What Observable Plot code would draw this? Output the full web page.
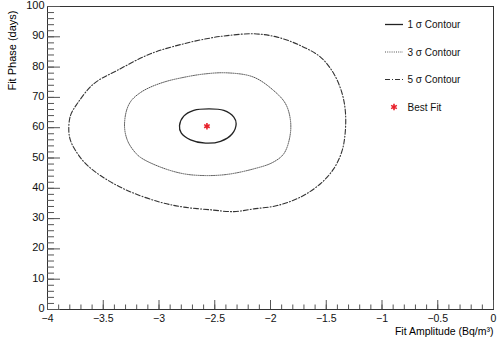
<!DOCTYPE html>
<html>
<head>
<meta charset="utf-8">
<script src="https://cdn.jsdelivr.net/npm/d3@7"></script>
<script src="https://cdn.jsdelivr.net/npm/@observablehq/plot@0.6"></script>
<style>
  html, body { margin: 0; padding: 0; background: #fff; }
  #wrap { position: relative; width: 498px; height: 340px; font-family: "Liberation Sans", Arial, sans-serif; }
  #legend { position: absolute; left: 0; top: 0; pointer-events: none; }
</style>
</head>
<body>
<div id="wrap"></div>
<script>
// ---- data (amplitude in Bq/m^3, phase in days) ----
const contour1Amp = [-2.816, -2.778, -2.688, -2.553, -2.419, -2.329, -2.308, -2.343, -2.448, -2.583, -2.717, -2.801];
const contour1Phase = [60.7, 63.8, 65.7, 66.2, 65.7, 63.5, 61.3, 58.0, 55.5, 54.9, 56.0, 58.3];

const contour3Amp = [-3.309, -3.291, -3.247, -3.166, -3.076, -2.942, -2.807, -2.601, -2.386, -2.152, -1.973, -1.865, -1.821, -1.827, -1.881, -1.982, -2.152, -2.386, -2.583, -2.780, -2.987, -3.166, -3.229, -3.283];
const contour3Phase = [60.2, 65.7, 69.0, 71.6, 73.4, 75.2, 76.4, 77.7, 78.1, 76.7, 72.3, 67.9, 62.4, 56.9, 51.4, 48.5, 46.4, 44.6, 44.2, 44.8, 47.0, 50.2, 52.5, 55.8];

const contour5Amp = [-3.809, -3.794, -3.734, -3.585, -3.375, -3.076, -2.778, -2.538, -2.388, -2.150, -1.940, -1.731, -1.552, -1.432, -1.357, -1.327, -1.334, -1.363, -1.432, -1.552, -1.731, -1.940, -2.150, -2.329, -2.538, -2.778, -2.987, -3.285, -3.525, -3.668, -3.749, -3.794];
const contour5Phase = [59.1, 64.0, 67.9, 74.5, 78.9, 84.4, 87.7, 89.6, 90.4, 91.0, 89.9, 87.1, 83.3, 77.8, 71.2, 64.6, 56.9, 51.8, 46.5, 41.5, 37.1, 34.3, 33.2, 32.3, 32.9, 33.8, 35.4, 39.3, 44.2, 48.5, 52.5, 55.8];

const bestFitAmp = [-2.57];
const bestFitPhase = [60.5];

const xTickValues = [-4, -3.5, -3, -2.5, -2, -1.5, -1, -0.5, 0];
const yTickValues = [0, 10, 20, 30, 40, 50, 60, 70, 80, 90, 100];
const legendLabels = ["1 \u03c3 Contour", "3 \u03c3 Contour", "5 \u03c3 Contour", "Best Fit"];
const xTitle = "Fit Amplitude (Bq/m\u00b3)";
const yTitle = "Fit Phase (days)";

// ---- build ----
const toPts = (xs, ys) => xs.map((x, i) => ({x, y: ys[i]}));
const c1 = toPts(contour1Amp, contour1Phase);
const c3 = toPts(contour3Amp, contour3Phase);
const c5 = toPts(contour5Amp, contour5Phase);
const best = toPts(bestFitAmp, bestFitPhase);

const W = 498, H = 340, mL = 47, mR = 5, mT = 6, mB = 31;
const pw = W - mL - mR, ph = H - mT - mB;
const xMinor = d3.range(-4, 0.0001, 0.1).map(v => +v.toFixed(2));
const yMinor = d3.range(0, 100.0001, 2);
const fmt = d => d === 0 ? "0" : String(d).replace("-", "\u2212");
const font = "Liberation Sans, Arial, sans-serif";

const chart = Plot.plot({
  width: W, height: H,
  marginLeft: mL, marginRight: mR, marginTop: mT, marginBottom: mB,
  style: {fontFamily: font, fontSize: "11px", color: "#111", background: "#fff"},
  x: {domain: [-4, 0]},
  y: {domain: [0, 100]},
  marks: [
    Plot.frame({stroke: "#333", strokeWidth: 1}),
    Plot.tickX(xMinor, {x: d => d, insetTop: ph - 4.5, stroke: "#555", strokeWidth: 1}),
    Plot.tickX(xTickValues, {x: d => d, insetTop: ph - 9, stroke: "#555", strokeWidth: 1}),
    Plot.tickY(yMinor, {y: d => d, insetRight: pw - 7, stroke: "#555", strokeWidth: 1}),
    Plot.tickY(yTickValues, {y: d => d, insetRight: pw - 13, stroke: "#555", strokeWidth: 1}),
    Plot.axisX(xTickValues, {tickSize: 0, tickPadding: 5, tickFormat: fmt, label: null, fontSize: 10.5}),
    Plot.axisY(yTickValues, {tickSize: 0, tickPadding: 3, dy: -1, tickFormat: fmt, label: null, fontSize: 11}),
    Plot.text([xTitle], {frameAnchor: "bottom-right", text: d => d, textAnchor: "end", dy: 25, fontSize: 10.5, fill: "#000"}),
    Plot.text([yTitle], {frameAnchor: "top-left", text: d => d, rotate: -90, textAnchor: "end", dx: -39, dy: 4, fontSize: 11, fill: "#000"}),
    Plot.line(c5, {x: "x", y: "y", curve: "catmull-rom-closed", stroke: "#333", strokeWidth: 1.1, strokeDasharray: "5,2,1,2"}),
    Plot.line(c3, {x: "x", y: "y", curve: "catmull-rom-closed", stroke: "#555", strokeWidth: 1, strokeDasharray: "1,1.2"}),
    Plot.line(c1, {x: "x", y: "y", curve: "catmull-rom-closed", stroke: "#222", strokeWidth: 1.3}),
    Plot.dot(best, {x: "x", y: "y", symbol: "asterisk", r: 3, stroke: "#e8202a", strokeWidth: 1.6})
  ]
});

const wrap = document.getElementById("wrap");
wrap.appendChild(chart);

// ---- legend overlay ----
const lg = d3.select(wrap).append("svg").attr("id", "legend").attr("width", W).attr("height", H);
const styles = [
  {dash: null, stroke: "#222", w: 1.3},
  {dash: "1,1.2", stroke: "#555", w: 1},
  {dash: "5,2,1,2", stroke: "#333", w: 1.1}
];
const ys = [24.5, 52, 79.5, 107];
legendLabels.forEach((lab, i) => {
  const g = lg.append("g").attr("transform", `translate(0,${ys[i]})`);
  if (i < 3) {
    g.append("line").attr("x1", 385).attr("x2", 403).attr("y1", 0).attr("y2", 0)
      .attr("stroke", styles[i].stroke).attr("stroke-width", styles[i].w)
      .attr("stroke-dasharray", styles[i].dash);
  } else {
    g.append("path").attr("transform", "translate(394,0)")
      .attr("d", d3.symbol(d3.symbolAsterisk, 30)())
      .attr("stroke", "#e8202a").attr("stroke-width", 1.6).attr("fill", "none");
  }
  g.append("text").attr("x", 407.5).attr("y", 0).attr("dy", "0.35em")
    .attr("font-family", font).attr("font-size", 10).attr("fill", "#111").text(lab);
});
</script>
</body>
</html>
